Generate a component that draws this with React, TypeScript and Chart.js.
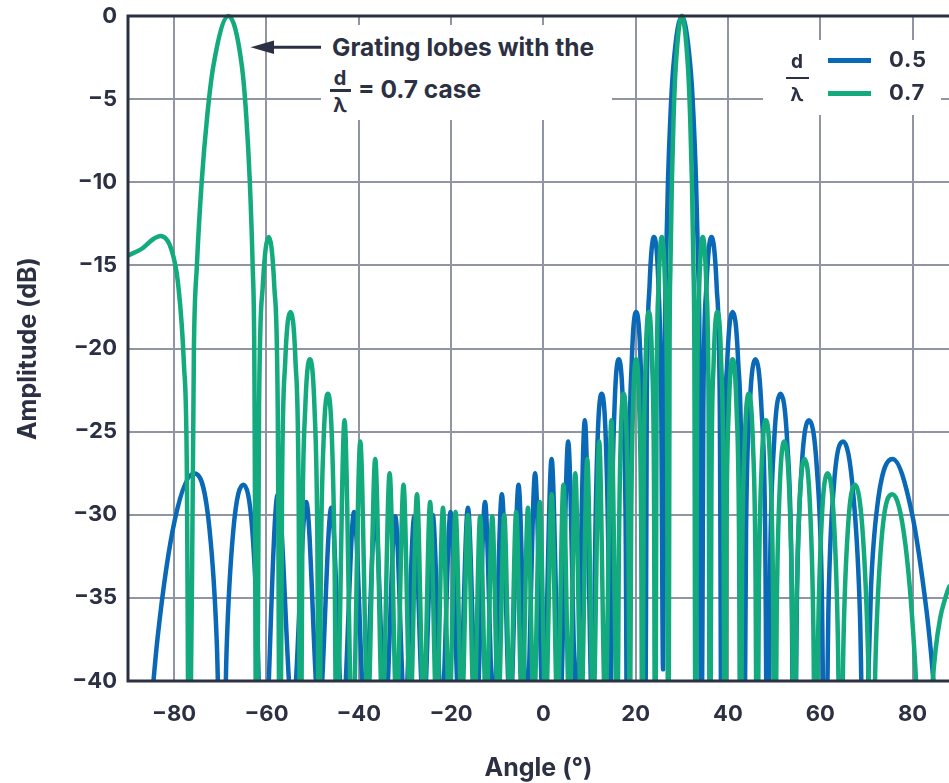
import React, { useEffect, useRef } from 'react';
import { Chart, registerables } from 'chart.js';

Chart.register(...registerables);

const FONT = 'Inter, "Noto Sans", Roboto, sans-serif';
const NAVY = '#2c3043';
const GRID = '#9194a3';
const BLUE = '#0a69b7';
const GREEN = '#13ab7e';

// Axis ticks
const xTickValues = [-80, -60, -40, -20, 0, 20, 40, 60, 80];
const xTickLabels = ['\u221280', '\u221260', '\u221240', '\u221220', '0', '20', '40', '60', '80'];
const yTickValues = [-40, -35, -30, -25, -20, -15, -10, -5, 0];
const yTickLabels = ['\u221240', '\u221235', '\u221230', '\u221225', '\u221220', '\u221215', '\u221210', '\u22125', '0'];

// Series d/λ = 0.5 (angle in degrees, amplitude in dB) — lobe peaks, shoulders and nulls
const blueAngle = [
  -90, -85.47, -83.59, -79.85, -75.65, -72.4, -70.72, -69.64,
  -68.63, -67.2, -65.0, -62.94, -61.8, -61.04,
  -57.54, -54.34, -51.38, -48.59, -45.95, -43.43, -41.01, -38.68, -36.43, -34.23, -32.09, -30.0,
  -27.95, -25.94, -23.97, -22.02, -20.11, -18.21, -16.34, -14.48, -12.64, -10.81, -8.99, -7.18,
  -5.38, -3.58, -1.79, 0, 1.79, 3.58, 5.38, 7.18, 8.99, 10.81,
  11.18, 11.73, 12.64, 13.56, 14.11, 14.48,
  14.85, 15.41, 16.34, 17.28, 17.84, 18.21,
  18.59, 19.16, 20.11, 21.07, 21.64, 22.02,
  22.41, 23.0, 23.97, 24.96, 25.55, 25.94,
  26.31, 26.57, 27.0, 27.54, 28.18, 30, 31.85, 32.53, 33.09, 33.55, 33.83, 34.23,
  34.67, 35.33, 36.43, 37.56, 38.23, 38.68,
  39.15, 39.85, 41.01, 42.22, 42.95, 43.43,
  43.93, 44.69, 45.95, 47.27, 48.06, 48.59,
  49.15, 49.99, 51.38, 52.86, 53.75, 54.34,
  54.98, 55.94, 57.54, 59.29, 60.34, 61.04,
  61.8, 62.94, 65.0, 67.2, 68.63, 69.64,
  70.3, 71.0, 72.4, 75.65, 79.86, 83.0, 84.0, 85.0, 90,
];
const blueDb = [
  -60, -43.3, -37.4, -30.3, -27.5, -30.7, -38.0, -50,
  -38.1, -31.0, -28.2, -31.4, -38.6, -48,
  -28.77, -42, -29.23, -42, -29.58, -42, -29.84, -42, -30.01, -42, -30.09, -42,
  -30.09, -42, -30.01, -42, -29.84, -42, -29.58, -42, -29.23, -42, -28.77, -42,
  -28.2, -42, -27.5, -42, -26.64, -42, -25.6, -42, -24.32, -44,
  -32.9, -25.7, -22.72, -25.7, -32.9, -45,
  -30.85, -23.65, -20.65, -23.65, -30.85, -48,
  -28.0, -20.8, -17.8, -20.8, -28.0, -50,
  -23.5, -16.3, -13.3, -16.3, -23.5, -39.3,
  -20, -15, -10, -6, -3, 0, -3, -6, -10, -15, -20, -50,
  -23.5, -16.3, -13.3, -16.3, -23.5, -50,
  -28.0, -20.8, -17.8, -20.8, -28.0, -50,
  -30.85, -23.65, -20.65, -23.65, -30.85, -50,
  -32.9, -25.7, -22.72, -25.7, -32.9, -50,
  -34.5, -27.3, -24.32, -27.3, -34.5, -50,
  -35.3, -28.3, -25.6, -28.9, -36.2, -50,
  -40.9, -34.4, -29.4, -26.64, -29.9, -35.7, -38.3, -41.5, -60,
];

// Series d/λ = 0.7
const greenAngle = [
  -90, -87, -84.58, -82.94, -80.61, -79.15, -77.88, -77.28, -76.72,
  -75.72, -75.07, -74.04, -72.83, -71.5, -68.22, -65.33, -64.38, -63.6, -62.99, -62.64, -62.12,
  -61.6, -60.81, -59.5, -58.29, -57.56, -57.07,
  -56.61, -55.93, -54.78, -53.7, -53.05, -52.62,
  -52.21, -51.6, -50.57, -49.58, -48.99, -48.59,
  -48.21, -47.64, -46.69, -45.78, -45.23, -44.86,
  -43.08, -41.36, -39.67, -38.03, -36.43, -34.85, -33.31, -31.79, -30.3, -28.83,
  -27.38, -25.94, -24.53, -23.13, -21.75, -20.38, -19.02, -17.67, -16.34, -15.01,
  -13.69, -12.37, -11.07, -9.77, -8.47, -7.18, -5.89, -4.61, -3.33, -2.05,
  -0.77, 0.51, 1.79, 3.07, 4.35, 5.64, 6.92, 8.21, 9.51, 10.81,
  12.11, 13.42, 14.74, 16.07,
  16.34, 16.74, 17.4, 18.08, 18.48, 18.75,
  19.02, 19.43, 20.11, 20.79, 21.2, 21.47,
  21.75, 22.16, 22.85, 23.55, 23.97, 24.25,
  24.53, 24.96, 25.66, 26.38, 26.8, 27.09,
  27.35, 27.54, 27.85, 28.23, 28.7, 30, 31.32, 31.8, 32.2, 32.52, 32.72, 33.0,
  33.31, 33.77, 34.54, 35.33, 35.8, 36.11,
  36.43, 36.91, 37.71, 38.53, 39.01, 39.34,
  39.68, 40.18, 41.01, 41.87, 42.39, 42.73,
  43.08, 43.62, 44.5, 45.41, 45.96, 46.32,
  46.7, 47.27, 48.21, 49.19, 49.77, 50.16,
  50.57, 51.19, 52.21, 53.28, 53.91, 54.34,
  54.79, 55.48, 56.61, 57.8, 58.51, 58.99,
  59.51, 60.29, 61.58, 62.99, 63.84, 64.4,
  65.0, 65.95, 67.53, 69.27, 70.38, 71.16,
  71.97, 73.25, 75.65, 78.5, 80.61, 82.35,
  84, 85, 86, 87, 88, 90,
];
const greenDb = [
  -14.4, -14.0, -13.43, -13.24, -14.04, -16.1, -20.95, -26.5, -50,
  -20, -15, -10, -6, -3, 0, -3, -6, -10, -15, -20, -50,
  -23.5, -16.3, -13.3, -16.3, -23.5, -50,
  -28.0, -20.8, -17.8, -20.8, -28.0, -50,
  -30.85, -23.65, -20.65, -23.65, -30.85, -48,
  -32.9, -25.7, -22.72, -25.7, -32.9, -45,
  -24.32, -44, -25.6, -42, -26.64, -42, -27.5, -42, -28.2, -42,
  -28.77, -42, -29.23, -42, -29.58, -42, -29.84, -42, -30.01, -42,
  -30.09, -42, -30.09, -42, -30.01, -42, -29.84, -42, -29.58, -42,
  -29.23, -42, -28.77, -42, -28.2, -42, -27.5, -42, -26.64, -42,
  -25.6, -42, -24.32, -44,
  -32.9, -25.7, -22.72, -25.7, -32.9, -45,
  -30.85, -23.65, -20.65, -23.65, -30.85, -48,
  -28.0, -20.8, -17.8, -20.8, -28.0, -50,
  -23.5, -16.3, -13.3, -16.3, -23.5, -50,
  -20, -15, -10, -6, -3, 0, -3, -6, -10, -15, -20, -50,
  -23.5, -16.3, -13.3, -16.3, -23.5, -50,
  -28.0, -20.8, -17.8, -20.8, -28.0, -50,
  -30.85, -23.65, -20.65, -23.65, -30.85, -50,
  -32.9, -25.7, -22.72, -25.7, -32.9, -50,
  -34.5, -27.3, -24.32, -27.3, -34.5, -50,
  -35.8, -28.6, -25.6, -28.6, -35.8, -50,
  -36.8, -29.6, -26.64, -29.6, -36.8, -50,
  -37.7, -30.5, -27.5, -30.5, -37.7, -50,
  -38.1, -31.05, -28.2, -31.36, -38.6, -50,
  -38.8, -31.6, -28.77, -31.9, -39.2, -50,
  -41.4, -38.1, -36.2, -35.1, -34.3, -33.7,
];

const seriesLabels = ['0.5', '0.7'];

const framePlugin = {
  id: 'frame',
  afterDatasetsDraw(chart: any) {
    const { ctx, chartArea: a } = chart;
    ctx.save();
    ctx.strokeStyle = NAVY;
    ctx.lineWidth = 3;
    ctx.lineCap = 'square';
    ctx.beginPath();
    ctx.moveTo(chart.width + 5, a.top);
    ctx.lineTo(a.left, a.top);
    ctx.lineTo(a.left, a.bottom);
    ctx.lineTo(chart.width + 5, a.bottom);
    ctx.stroke();
    ctx.restore();
  },
};

const textBase: React.CSSProperties = {
  position: 'absolute',
  fontFamily: FONT,
  fontWeight: 700,
  color: NAVY,
  whiteSpace: 'nowrap',
  margin: 0,
};

export default function App() {
  const ref = useRef<HTMLCanvasElement | null>(null);

  useEffect(() => {
    if (!ref.current) return;
    const toPoints = (xs: number[], ys: number[]) => xs.map((x, i) => ({ x, y: ys[i] }));
    const chart = new Chart(ref.current, {
      type: 'line',
      data: {
        datasets: [
          {
            label: seriesLabels[1],
            data: toPoints(greenAngle, greenDb),
            borderColor: GREEN,
            borderWidth: 4.5,
            pointRadius: 0,
            cubicInterpolationMode: 'monotone',
            borderJoinStyle: 'round',
            borderCapStyle: 'round',
            clip: { left: 0, top: 5, right: 0, bottom: 0 } as any,
            order: 0,
          },
          {
            label: seriesLabels[0],
            data: toPoints(blueAngle, blueDb),
            borderColor: BLUE,
            borderWidth: 4.5,
            pointRadius: 0,
            cubicInterpolationMode: 'monotone',
            borderJoinStyle: 'round',
            borderCapStyle: 'round',
            clip: { left: 0, top: 5, right: 0, bottom: 0 } as any,
            order: 1,
          },
        ],
      },
      options: {
        animation: false,
        responsive: false,
        maintainAspectRatio: false,
        events: [],
        layout: { padding: { top: 16, right: 0, bottom: 0, left: 0 } },
        plugins: { legend: { display: false }, tooltip: { enabled: false } },
        scales: {
          x: {
            type: 'linear',
            min: -90,
            max: 87.9,
            afterBuildTicks: (s: any) => {
              s.ticks = xTickValues.map((value) => ({ value }));
            },
            afterFit: (s: any) => {
              s.height = 102;
              s.paddingLeft = 0;
              s.paddingRight = 0;
            },
            grid: { color: GRID, lineWidth: 2, drawTicks: false },
            border: { display: false },
            ticks: {
              autoSkip: false,
              maxRotation: 0,
              padding: 20,
              color: NAVY,
              font: { family: FONT, size: 22, weight: 'bold' },
              callback: (_v: any, i: number) => xTickLabels[i],
            },
            title: {
              display: true,
              text: 'Angle (°)',
              color: NAVY,
              font: { family: FONT, size: 25, weight: 'bold' },
              padding: { top: 0, bottom: 0 },
            },
          },
          y: {
            type: 'linear',
            min: -40,
            max: 0,
            afterBuildTicks: (s: any) => {
              s.ticks = yTickValues.map((value) => ({ value }));
            },
            afterFit: (s: any) => {
              s.width = 128;
              s.paddingTop = 0;
              s.paddingBottom = 0;
            },
            grid: { color: GRID, lineWidth: 2, drawTicks: false },
            border: { display: false },
            ticks: {
              autoSkip: false,
              padding: 11,
              color: NAVY,
              font: { family: FONT, size: 22, weight: 'bold' },
              callback: (_v: any, i: number) => yTickLabels[i],
            },
            title: {
              display: true,
              text: 'Amplitude (dB)',
              color: NAVY,
              font: { family: FONT, size: 25, weight: 'bold' },
              padding: { top: 13, bottom: 0 },
            },
          },
        },
      },
      plugins: [framePlugin],
    });
    return () => chart.destroy();
  }, []);

  return (
    <div style={{ position: 'absolute', left: 0, top: 0, width: 949, height: 783, overflow: 'hidden', background: '#fff' }}>
      <canvas ref={ref} width={949} height={783} style={{ position: 'absolute', left: 0, top: 0, width: 949, height: 783 }} />

      {/* annotation */}
      <div style={{ position: 'absolute', left: 321, top: 25, width: 291, height: 95, background: '#fff' }} />
      <svg width={949} height={783} style={{ position: 'absolute', left: 0, top: 0, pointerEvents: 'none' }}>
        <line x1={321} y1={47.3} x2={266} y2={47.3} stroke={NAVY} strokeWidth={3} />
        <polygon points="250.5,47.3 274,40.6 274,54" fill={NAVY} />
      </svg>
      <div style={{ ...textBase, left: 332, top: 31.6, fontSize: 24.5, lineHeight: '30px' }}>Grating lobes with the</div>
      <div style={{ ...textBase, left: 325, top: 66, width: 30, textAlign: 'center', fontSize: 20, lineHeight: '24px' }}>d</div>
      <div style={{ position: 'absolute', left: 330, top: 89, width: 21, height: 2.5, background: NAVY }} />
      <div style={{ ...textBase, left: 325, top: 93, width: 30, textAlign: 'center', fontSize: 20, lineHeight: '24px' }}>λ</div>
      <div style={{ ...textBase, left: 358, top: 74, fontSize: 24.5, lineHeight: '30px' }}>= 0.7 case</div>

      {/* legend */}
      <div style={{ position: 'absolute', left: 763, top: 40, width: 178, height: 75, background: '#fff' }} />
      <div style={{ ...textBase, left: 782, top: 50.5, width: 30, textAlign: 'center', fontSize: 19, lineHeight: '22px' }}>d</div>
      <div style={{ position: 'absolute', left: 786, top: 76.5, width: 23, height: 2.5, background: NAVY }} />
      <div style={{ ...textBase, left: 782, top: 83.5, width: 30, textAlign: 'center', fontSize: 19, lineHeight: '22px' }}>λ</div>
      <div style={{ position: 'absolute', left: 828, top: 58, width: 43, height: 4.5, background: BLUE }} />
      <div style={{ position: 'absolute', left: 828, top: 91, width: 43, height: 4.5, background: GREEN }} />
      <div style={{ ...textBase, left: 889, top: 45.5, fontSize: 22, lineHeight: '26px', letterSpacing: '0.8px' }}>{seriesLabels[0]}</div>
      <div style={{ ...textBase, left: 889, top: 79, fontSize: 22, lineHeight: '26px', letterSpacing: '0.8px' }}>{seriesLabels[1]}</div>
    </div>
  );
}
